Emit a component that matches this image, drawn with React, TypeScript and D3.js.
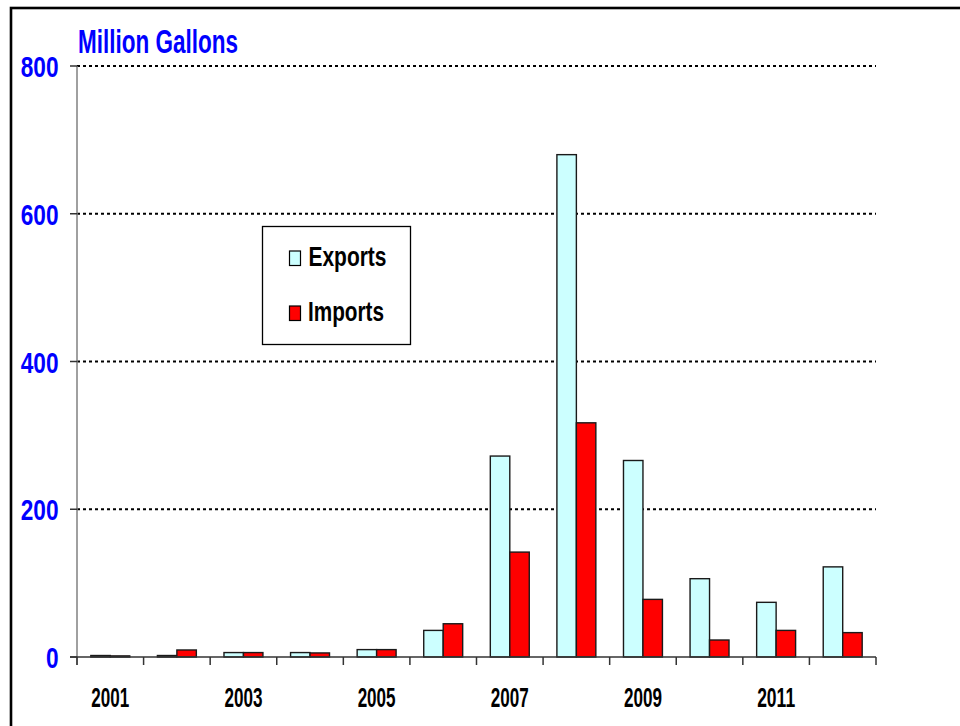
import React from "react";
import * as d3 from "d3";

const years = ["2001","2002","2003","2004","2005","2006","2007","2008","2009","2010","2011","2012"];
const exportsVals = [2, 2, 6, 6, 10, 36, 272, 680, 266, 106, 74, 122];
const importsVals = [1.5, 9.5, 6, 5.5, 10, 45, 142, 317, 78, 23, 36, 33];
const yTicks = [0, 200, 400, 600, 800];
const xLabelYears = ["2001","2003","2005","2007","2009","2011"];
const seriesNames = ["Exports", "Imports"];
const seriesColors = ["#CCFFFF", "#FF0000"];

const W = 960, H = 726;
const left = 77, right = 876, top = 66, bottom = 657;
const FONT = "'Liberation Sans', Arial, sans-serif";

export default function App() {
  const x0 = d3.scaleBand<string>().domain(years).range([left, right]).padding(0);
  const bw = x0.bandwidth();
  const groupW = bw * 0.585;
  const x1 = d3.scaleBand<string>().domain(seriesNames).range([(bw - groupW) / 2, (bw + groupW) / 2]).padding(0);
  const y = d3.scaleLinear().domain([0, 800]).range([bottom, top]);
  const series = [exportsVals, importsVals];
  const boundaries = [...years.map((yr) => x0(yr)!), right];

  return (
    <svg width={W} height={H} style={{ position: "absolute", left: 0, top: 0, background: "#fff" }}>
      <rect x={11} y={8} width={1000} height={800} fill="#fff" stroke="#000" strokeWidth={2.6} />
      {/* gridlines */}
      {yTicks.filter((t) => t > 0).map((t) => (
        <line key={t} x1={left} x2={right} y1={y(t)} y2={y(t)} stroke="#000" strokeWidth={2} strokeDasharray="3,3" />
      ))}
      {/* bars */}
      {years.map((yr, i) => (
        <g key={yr} transform={`translate(${x0(yr)},0)`}>
          {seriesNames.map((s, j) => (
            <rect key={s} x={x1(s)} y={y(series[j][i])} width={x1.bandwidth()} height={bottom - y(series[j][i])}
              fill={seriesColors[j]} stroke="#1a1a1a" strokeWidth={1.4} />
          ))}
        </g>
      ))}
      {/* y axis */}
      <line x1={left} x2={left} y1={top} y2={665} stroke="#808080" strokeWidth={1.5} />
      {yTicks.map((t) => (
        <line key={t} x1={70} x2={left} y1={y(t)} y2={y(t)} stroke="#333" strokeWidth={1.5} />
      ))}
      {yTicks.map((t) => (
        <text key={t} x={58.5} y={y(t) + 11} textAnchor="end" fontFamily={FONT} fontWeight="bold" fontSize={30}
          fill="#0000FF" textLength={String(t).length * 12.6} lengthAdjust="spacingAndGlyphs">{t}</text>
      ))}
      {/* x axis */}
      <line x1={70} x2={right} y1={bottom} y2={bottom} stroke="#333" strokeWidth={1.5} />
      {boundaries.map((b, i) => (
        <line key={i} x1={b} x2={b} y1={bottom} y2={665} stroke="#333" strokeWidth={1.5} />
      ))}
      {xLabelYears.map((yr) => (
        <text key={yr} x={x0(yr)! + bw / 2} y={706.5} textAnchor="middle" fontFamily={FONT} fontWeight="bold" fontSize={27}
          fill="#000" textLength={38} lengthAdjust="spacingAndGlyphs">{yr}</text>
      ))}
      {/* title */}
      <text x={78} y={53.3} fontFamily={FONT} fontWeight="bold" fontSize={33} fill="#0000FF"
        textLength={160} lengthAdjust="spacingAndGlyphs">Million Gallons</text>
      {/* legend */}
      <rect x={262.5} y={226.5} width={148} height={118} fill="#fff" stroke="#000" strokeWidth={1.3} />
      <rect x={289.5} y={251} width={11} height={14.5} fill={seriesColors[0]} stroke="#000" strokeWidth={1.2} />
      <text x={308.5} y={266} fontFamily={FONT} fontWeight="bold" fontSize={28} fill="#000"
        textLength={78} lengthAdjust="spacingAndGlyphs">Exports</text>
      <rect x={289.5} y={306} width={11} height={14.5} fill={seriesColors[1]} stroke="#000" strokeWidth={1.2} />
      <text x={308} y={321} fontFamily={FONT} fontWeight="bold" fontSize={28} fill="#000"
        textLength={76} lengthAdjust="spacingAndGlyphs">Imports</text>
    </svg>
  );
}
